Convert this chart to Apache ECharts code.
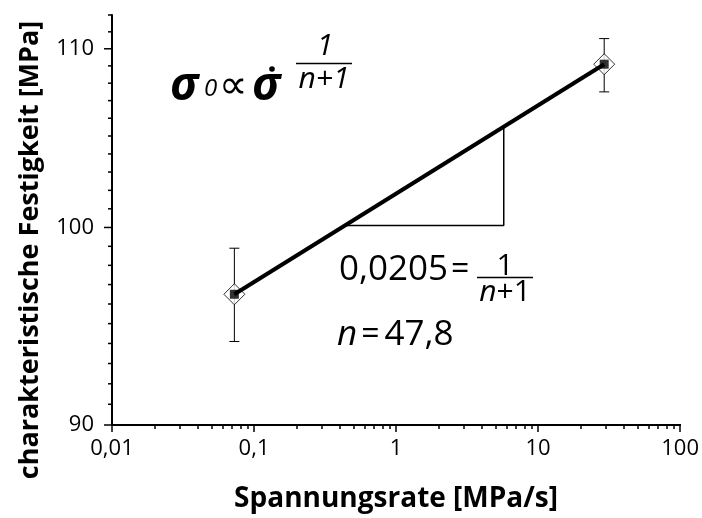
<!DOCTYPE html>
<html>
<head>
<meta charset="utf-8">
<script src="https://cdn.jsdelivr.net/npm/echarts@6/dist/echarts.min.js"></script>
<style>
html, body { margin: 0; background: #fff; }
#chart { width: 702px; height: 518px; }
</style>
</head>
<body>
<div id="chart"></div>
<script>
// measured points (strain rate vs characteristic strength)
var rateX = [0.0727, 29.2];
var strengthY = [96.5, 109.1];
var errLow = [94.1, 107.5];
var errHigh = [98.9, 110.6];

// fitted line ends and slope triangle
var fitX = [0.0727, 29.2];
var fitY = [96.5, 109.1];
var triX = [0.443, 5.73, 5.73];
var triY = [100.1, 100.1, 105.5];

// ticks
var xMajorTicks = [0.01, 0.1, 1, 10, 100];
var yMajorTicks = [90, 100, 110];

var xMinorTicks = [];
for (var d = 0; d < xMajorTicks.length - 1; d++) {
    for (var m = 2; m <= 9; m++) xMinorTicks.push(+(xMajorTicks[d] * m).toPrecision(6));
}
var yMinorTicks = [];
for (var v = 91; v <= 112; v++) {
    if (yMajorTicks.indexOf(v) < 0) yMinorTicks.push(v);
}

var FONT = '"Open Sans", "DejaVu Sans", sans-serif';

function commaFmt(v) {
    return String(+v.toPrecision(6)).replace('.', ',');
}

var chart = echarts.init(document.getElementById('chart'));

var axisLineStyle = { show: true, lineStyle: { color: '#000', width: 2 } };
var baseX = {
    type: 'log', gridIndex: 0, position: 'bottom', min: 0.01, max: 100,
    splitLine: { show: false }, minorTick: { show: false }, axisLine: axisLineStyle
};

// y ticks (log axis) drawn through the axis scale: [x at axis, value, tick length]
var yTickData = yMajorTicks.map(function (t) { return [0.01, t, 8]; })
    .concat(yMinorTicks.map(function (t) { return [0.01, t, 4]; }));

var option = {
    animation: false,
    backgroundColor: '#fff',
    grid: { left: 112, right: 20, top: 15, bottom: 92 },
    xAxis: [
        Object.assign({}, baseX, {
            name: 'Spannungsrate [MPa/s]',
            nameLocation: 'middle',
            nameGap: 60,
            nameTextStyle: { fontFamily: FONT, fontWeight: 'bold', fontSize: 28, color: '#000' },
            axisTick: { show: true, inside: false, length: 7, lineStyle: { color: '#000', width: 1.5 } },
            axisLabel: { show: true, margin: 13, fontFamily: FONT, fontSize: 22, color: '#000', customValues: xMajorTicks, formatter: commaFmt }
        }),
        Object.assign({}, baseX, {
            axisTick: { show: true, inside: false, length: 4, lineStyle: { color: '#000', width: 1.5 }, customValues: xMinorTicks },
            axisLabel: { show: false }
        })
    ],
    yAxis: [{
        type: 'log', position: 'left', min: 90, max: 112,
        splitLine: { show: false }, minorTick: { show: false },
        axisLine: axisLineStyle,
        axisTick: { show: false },
        axisLabel: { show: true, margin: 18, fontFamily: FONT, fontSize: 22, color: '#000', customValues: yMajorTicks, formatter: commaFmt }
    }],
    series: [
        {
            type: 'custom',
            name: 'yTicks',
            silent: true,
            clip: false,
            xAxisIndex: 0, yAxisIndex: 0,
            z: 1,
            encode: { x: 0, y: 1 },
            data: yTickData,
            renderItem: function (params, api) {
                var p = api.coord([api.value(0), api.value(1)]);
                return {
                    type: 'line',
                    shape: { x1: p[0] - api.value(2), y1: p[1], x2: p[0], y2: p[1] },
                    style: { stroke: '#000', lineWidth: 1.5 }
                };
            }
        },
        {
            type: 'custom',
            name: 'Fehler',
            xAxisIndex: 0, yAxisIndex: 0,
            z: 2,
            encode: { x: 0, y: [1, 2] },
            data: rateX.map(function (x, i) { return [x, errLow[i], errHigh[i]]; }),
            renderItem: function (params, api) {
                var lo = api.coord([api.value(0), api.value(1)]);
                var hi = api.coord([api.value(0), api.value(2)]);
                var cap = 5;
                var st = { stroke: '#000', lineWidth: 1 };
                return {
                    type: 'group',
                    children: [
                        { type: 'line', shape: { x1: lo[0], y1: lo[1], x2: hi[0], y2: hi[1] }, style: st },
                        { type: 'line', shape: { x1: lo[0] - cap, y1: lo[1], x2: lo[0] + cap, y2: lo[1] }, style: st },
                        { type: 'line', shape: { x1: hi[0] - cap, y1: hi[1], x2: hi[0] + cap, y2: hi[1] }, style: st }
                    ]
                };
            }
        },
        {
            type: 'scatter',
            xAxisIndex: 0, yAxisIndex: 0,
            z: 3,
            symbol: 'diamond',
            symbolSize: [21, 21],
            itemStyle: { color: '#fff', borderColor: '#000', borderWidth: 1 },
            data: rateX.map(function (x, i) { return [x, strengthY[i]]; })
        },
        {
            type: 'line',
            xAxisIndex: 0, yAxisIndex: 0,
            z: 4,
            symbol: 'none',
            lineStyle: { color: '#000', width: 4 },
            data: fitX.map(function (x, i) { return [x, fitY[i]]; })
        },
        {
            type: 'line',
            xAxisIndex: 0, yAxisIndex: 0,
            z: 4,
            symbol: 'none',
            lineStyle: { color: '#000', width: 1.5 },
            data: triX.map(function (x, i) { return [x, triY[i]]; })
        },
        {
            type: 'scatter',
            xAxisIndex: 0, yAxisIndex: 0,
            z: 5,
            symbol: 'rect',
            symbolSize: 9,
            itemStyle: { color: '#000' },
            data: rateX.map(function (x, i) { return [x, strengthY[i]]; })
        }
    ],
    graphic: [
        // y axis title, centred like the original
        {
            type: 'text', x: 30, y: 250, rotation: Math.PI / 2,
            style: { text: 'charakteristische Festigkeit [MPa]', font: 'bold 27px ' + FONT, fill: '#000', textAlign: 'center', textVerticalAlign: 'middle' }
        },

        // sigma_0 ∝ sigma-dot ^ 1/(n+1)
        { type: 'text', x: 170, y: 87, style: { text: 'σ', font: 'italic bold 46px ' + FONT, fill: '#000', textVerticalAlign: 'middle' } },
        { type: 'text', x: 204, y: 89, style: { text: '0', font: 'italic 24px ' + FONT, fill: '#000', textVerticalAlign: 'middle' } },
        { type: 'text', x: 219, y: 88, style: { text: '∝', font: '40px "DejaVu Sans", sans-serif', fill: '#000', textVerticalAlign: 'middle' } },
        { type: 'text', x: 252, y: 87, style: { text: 'σ', font: 'italic bold 46px ' + FONT, fill: '#000', textVerticalAlign: 'middle' } },
        { type: 'circle', shape: { cx: 272, cy: 69, r: 2.8 }, style: { fill: '#000' } },
        { type: 'text', x: 325, y: 46, style: { text: '1', font: 'italic 30px ' + FONT, fill: '#000', textAlign: 'center', textVerticalAlign: 'middle' } },
        { type: 'line', shape: { x1: 296, y1: 63.5, x2: 352, y2: 63.5 }, style: { stroke: '#000', lineWidth: 1.3 } },
        { type: 'text', x: 324, y: 79, style: { text: 'n+1', font: 'italic 30px ' + FONT, fill: '#000', textAlign: 'center', textVerticalAlign: 'middle' } },

        // 0,0205 = 1/(n+1)
        {
            type: 'text', x: 339, y: 270,
            style: {
                text: '{a|0,0205}{b|=}',
                textVerticalAlign: 'middle',
                rich: {
                    a: { font: '35px ' + FONT, fill: '#000' },
                    b: { font: '32px ' + FONT, fill: '#000', padding: [0, 0, 0, 3] }
                }
            }
        },
        { type: 'text', x: 505, y: 266, style: { text: '1', font: '30px ' + FONT, fill: '#000', textAlign: 'center', textVerticalAlign: 'middle' } },
        { type: 'line', shape: { x1: 477, y1: 277.5, x2: 533, y2: 277.5 }, style: { stroke: '#000', lineWidth: 1.3 } },
        {
            type: 'text', x: 505, y: 292,
            style: {
                text: '{i|n}{r|+1}', textAlign: 'center', textVerticalAlign: 'middle',
                rich: { i: { font: 'italic 30px ' + FONT, fill: '#000' }, r: { font: '30px ' + FONT, fill: '#000' } }
            }
        },

        // n = 47,8
        {
            type: 'text', x: 337, y: 335,
            style: {
                text: '{i|n}{r|=}{v|47,8}', textVerticalAlign: 'middle',
                rich: {
                    i: { font: 'italic 35px ' + FONT, fill: '#000' },
                    r: { font: '32px ' + FONT, fill: '#000', padding: [0, 5, 0, 4] },
                    v: { font: '35px ' + FONT, fill: '#000' }
                }
            }
        }
    ]
};

chart.setOption(option);
</script>
</body>
</html>
